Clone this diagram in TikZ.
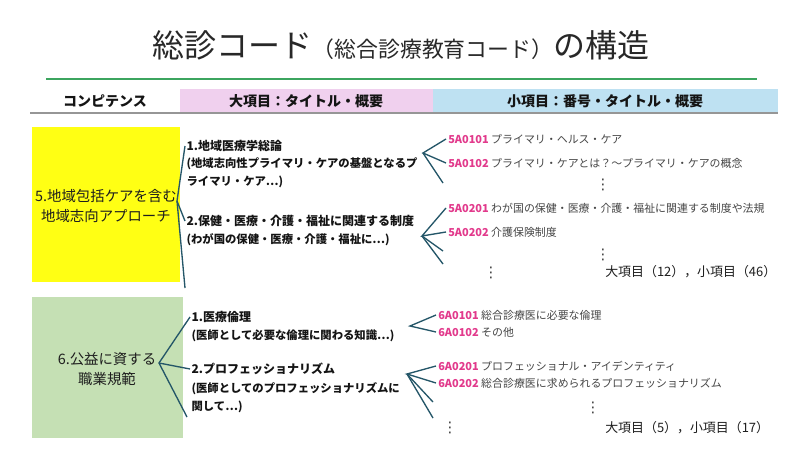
\documentclass[tikz,border=0pt]{standalone}
\usepackage{fontspec}
\setmainfont{Noto Sans CJK JP}
\newfontfamily\symfont{DejaVu Sans}
\newcommand\minorcode[1]{{\bfseries\textcolor[RGB]{226,58,140}{#1}}}

\begin{document}
\begin{tikzpicture}[x=0.75pt,y=0.75pt,yscale=-1,xscale=1,
  branch/.style={draw={rgb,255:red,36;green,86;blue,104},line width=1pt},
  majortext/.style={anchor=west,align=left,inner sep=1pt,font=\bfseries\fontsize{9}{13.5}\selectfont,text={rgb,255:red,20;green,20;blue,20}},
  notetext/.style={majortext,font=\bfseries\fontsize{8.5}{13.5}\selectfont},
  minortext/.style={anchor=west,inner sep=1.5pt,font=\fontsize{8.2}{10}\selectfont,text={rgb,255:red,70;green,70;blue,70}},
  dotsnode/.style={inner sep=0pt,font=\symfont\fontsize{11}{12}\selectfont,text={rgb,255:red,60;green,60;blue,60}},
  counttext/.style={anchor=west,inner sep=0pt,font=\fontsize{9.7}{11}\selectfont,text={rgb,255:red,30;green,30;blue,30}},
  boxtext/.style={align=center,font=\fontsize{10.8}{15.5}\selectfont,text={rgb,255:red,30;green,30;blue,30}},
  headtext/.style={font=\bfseries\fontsize{10.5}{12}\selectfont,text={rgb,255:red,20;green,20;blue,20}}]
\useasboundingbox (0,0) rectangle (800,450);
\fill[white] (0,0) rectangle (800,450);

% Text Node
\draw (401,45) node (title) [text={rgb,255:red,40;green,40;blue,40}] {{\fontsize{24}{28}\selectfont 総診コード}{\fontsize{16.4}{20}\selectfont（総合診療教育コード）}{\fontsize{24}{28}\selectfont の構造}};
%Straight Lines
\draw [color={rgb, 255:red, 60; green, 165; blue, 95 }, line width=1pt] (46,79) -- (757,79) ;

%Shape: Rectangle
\fill [color={rgb, 255:red, 240; green, 208; blue, 238 }] (180,89) rectangle (433,112) ;
%Shape: Rectangle
\fill [color={rgb, 255:red, 190; green, 225; blue, 242 }] (433,89) rectangle (778,112) ;
%Straight Lines
\draw [color={rgb, 255:red, 150; green, 150; blue, 150 }, line width=1.2pt] (30,113) -- (778,113) ;
% Text Node
\draw (105,101) node (hdrComp) [headtext] {コンピテンス};
% Text Node
\draw (306,101) node (hdrMajor) [headtext] {大項目：タイトル・概要};
% Text Node
\draw (605,101) node (hdrMinor) [headtext] {小項目：番号・タイトル・概要};

%Shape: Rectangle
\fill [color={rgb, 255:red, 255; green, 255; blue, 20 }] (32,127) rectangle (180,282) ;
%Shape: Rectangle
\fill [color={rgb, 255:red, 197; green, 224; blue, 180 }] (32,297) rectangle (183,438) ;
% Text Node
\draw (106,206) node (boxFive) [boxtext] {5.地域包括ケアを含む\\地域志向アプローチ};
% Text Node
\draw (107,369) node (boxSix) [boxtext] {6.公益に資する\\職業規範};

% Text Node
\draw (185,146) node (majA1) [majortext] {1.地域医療学総論};
% Text Node
\draw (185,173) node (noteA1) [notetext] {(地域志向性プライマリ・ケアの基盤となるプ\\ライマリ・ケア…)};
% Text Node
\draw (185,221) node (majA2) [majortext] {2.保健・医療・介護・福祉に関連する制度};
% Text Node
\draw (185,240) node (noteA2) [notetext] {(わが国の保健・医療・介護・福祉に…)};
% Text Node
\draw (190,317) node (majB1) [majortext] {1.医療倫理};
% Text Node
\draw (190,336) node (noteB1) [notetext] {(医師として必要な倫理に関わる知識…)};
% Text Node
\draw (190,369) node (majB2) [majortext] {2.プロフェッショナリズム};
% Text Node
\draw (190,398) node (noteB2) [notetext] {(医師としてのプロフェッショナリズムに\\関して…)};

% Text Node
\draw (446,139) node (minA11) [minortext] {\minorcode{5A0101} プライマリ・ヘルス・ケア};
% Text Node
\draw (446,163) node (minA12) [minortext] {\minorcode{5A0102} プライマリ・ケアとは？～プライマリ・ケアの概念};
% Text Node
\draw (446,208) node (minA21) [minortext] {\minorcode{5A0201} わが国の保健・医療・介護・福祉に関連する制度や法規};
% Text Node
\draw (446,232) node (minA22) [minortext] {\minorcode{5A0202} 介護保険制度};
% Text Node
\draw (436,315) node (minB11) [minortext] {\minorcode{6A0101} 総合診療医に必要な倫理};
% Text Node
\draw (436,332) node (minB12) [minortext] {\minorcode{6A0102} その他};
% Text Node
\draw (436,366) node (minB21) [minortext] {\minorcode{6A0201} プロフェッショナル・アイデンティティ};
% Text Node
\draw (436,383) node (minB22) [minortext] {\minorcode{6A0202} 総合診療医に求められるプロフェッショナリズム};

% Text Node
\draw (603,185) node (dotsA1) [dotsnode] {⋮};
% Text Node
\draw (603,255) node (dotsA2) [dotsnode] {⋮};
% Text Node
\draw (491,273) node (dotsA3) [dotsnode] {⋮};
% Text Node
\draw (593,408) node (dotsB1) [dotsnode] {⋮};
% Text Node
\draw (450,428) node (dotsB2) [dotsnode] {⋮};
% Text Node
\draw (605,272) node (countA) [counttext] {大項目（12），小項目（46）};
% Text Node
\draw (605,428) node (countB) [counttext] {大項目（5），小項目（17）};

%Straight Lines
\coordinate (apexFive) at (177,201);
\coordinate (endFive) at (185,288);
\draw [branch] (majA1.west) -- (apexFive) -- (endFive) ;
\draw [branch] (apexFive) -- (majA2.west) ;
%Straight Lines
\coordinate (apexSix) at (159,363);
\coordinate (endSix) at (187,417);
\draw [branch] (majB1.west) -- (apexSix) -- (endSix) ;
\draw [branch] (apexSix) -- (majB2.west) ;
%Straight Lines
\coordinate (apexA1) at (423,153);
\coordinate (endA1) at (443,183);
\draw [branch] (minA11.west) -- (apexA1) -- (minA12.west) ;
\draw [branch] (apexA1) -- (endA1) ;
%Straight Lines
\coordinate (apexA2) at (422,236);
\coordinate (endA2a) at (443,251);
\coordinate (endA2b) at (443,264);
\draw [branch] (minA21.west) -- (apexA2) -- (minA22.west) ;
\draw [branch] (apexA2) -- (endA2a) ;
\draw [branch] (apexA2) -- (endA2b) ;
%Straight Lines
\coordinate (apexB1) at (410,326);
\draw [branch] (minB11.west) -- (apexB1) -- (minB12.west) ;
%Straight Lines
\coordinate (apexB2) at (407,374);
\coordinate (endB2a) at (433,402);
\coordinate (endB2b) at (433,418);
\draw [branch] (minB21.west) -- (apexB2) -- (minB22.west) ;
\draw [branch] (apexB2) -- (endB2a) ;
\draw [branch] (apexB2) -- (endB2b) ;

\end{tikzpicture}
\end{document}
